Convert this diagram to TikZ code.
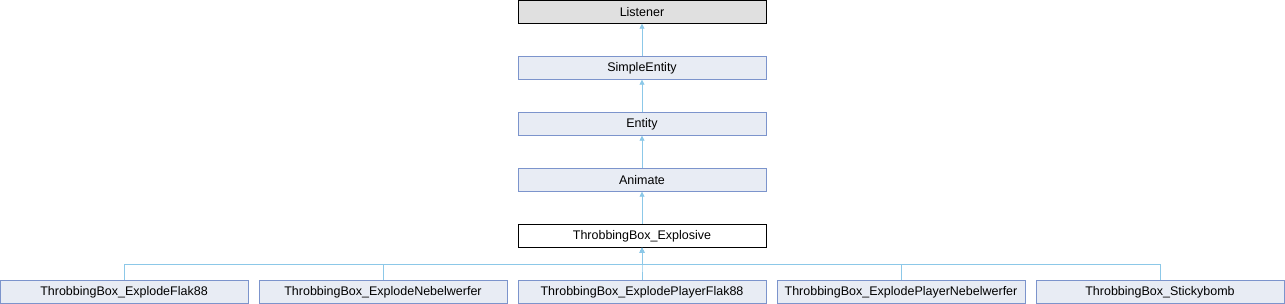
\documentclass[tikz,border=0pt]{standalone}
\usepackage{fontspec}
\setmainfont{Liberation Sans}
\usepackage{tikz}
\usetikzlibrary{arrows.meta, calc}
\definecolor{boxblue}{RGB}{232,236,244}
\definecolor{edgeblue}{RGB}{124,148,204}
\definecolor{linkblue}{RGB}{140,200,232}
\definecolor{basegray}{RGB}{224,224,224}

\begin{document}
\begin{tikzpicture}[x=1pt, y=-1pt,
    cls/.style={rectangle, draw=edgeblue, fill=boxblue, minimum width=248pt, minimum height=23pt, inner sep=0pt, align=center, font=\fontsize{12.5}{14}\selectfont},
    arrow/.style={{Triangle[length=5pt,width=5pt]}-, linkblue, line width=0.8pt}
]
\useasboundingbox (0,0) rectangle (1285,304);

\node[cls, draw=black, fill=basegray] (listener) at (642,12) {Listener};
\node[cls] (simple) at (642,68) {SimpleEntity};
\node[cls] (entity) at (642,124) {Entity};
\node[cls] (animate) at (642,180) {Animate};
\node[cls, draw=black, fill=white] (explosive) at (642,236) {ThrobbingBox\_Explosive};

\node[cls] (flak) at (124,292) {ThrobbingBox\_ExplodeFlak88};
\node[cls] (nebel) at (383,292) {ThrobbingBox\_ExplodeNebelwerfer};
\node[cls] (pflak) at (642,292) {ThrobbingBox\_ExplodePlayerFlak88};
\node[cls] (pnebel) at (901,292) {ThrobbingBox\_ExplodePlayerNebelwerfer};
\node[cls] (sticky) at (1160,292) {ThrobbingBox\_Stickybomb};

\draw[arrow] (listener) -- (simple);
\draw[arrow] (simple) -- (entity);
\draw[arrow] (entity) -- (animate);
\draw[arrow] (animate) -- (explosive);

\foreach \kid in {flak, nebel, pflak, pnebel, sticky}
  \draw[arrow] (explosive.south) |- ($(\kid.north)+(0,-16)$) -- (\kid.north);
\end{tikzpicture}
\end{document}
